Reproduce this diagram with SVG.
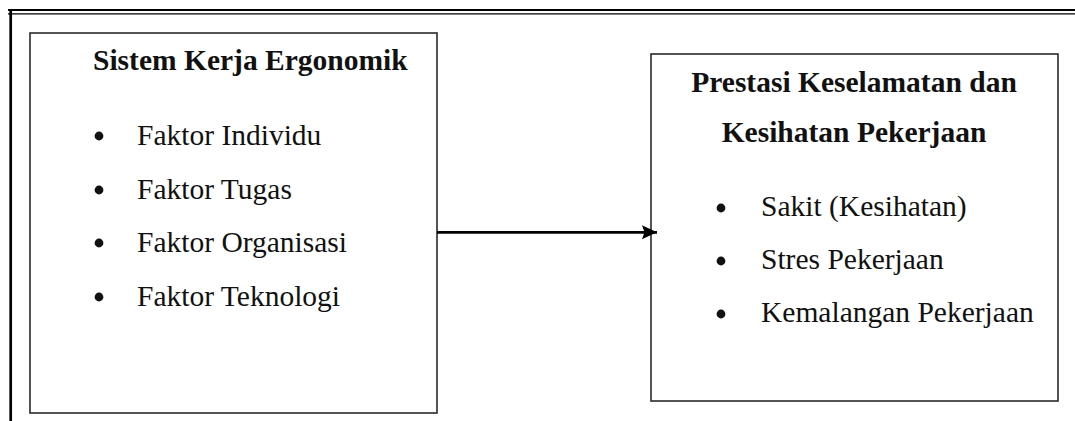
<svg xmlns="http://www.w3.org/2000/svg" width="1075" height="421" viewBox="0 0 1075 421">
<defs>
<style>
.box{fill:#fff;stroke:#2a2a2a;stroke-width:1.6}
.frame{stroke:#000;fill:none}
.title{font-family:"Liberation Serif","Times New Roman",serif;font-weight:bold;font-size:29.5px;fill:#111}
.item{font-family:"Liberation Serif","Times New Roman",serif;font-size:29.5px;fill:#111}
.bullet{fill:#111}
.conn{stroke:#000;stroke-width:2.7;fill:none}
</style>
<marker id="arrow" markerUnits="userSpaceOnUse" markerWidth="18" markerHeight="18" refX="15" refY="8" orient="auto">
<path d="M0,1 L15,8 L0,15 L2.5,8 Z" fill="#000"/>
</marker>
</defs>
<rect width="1075" height="421" fill="#fff"/>
<g id="frame">
<line class="frame" x1="8" y1="10" x2="1075" y2="10" stroke-width="2.2"/>
<line class="frame" x1="8" y1="13.8" x2="1075" y2="13.8" stroke-width="1.3"/>
<line class="frame" x1="10.7" y1="9" x2="10.7" y2="421" stroke-width="2.7"/>
</g>
<g id="node-sistem">
<rect class="box" x="30" y="33" width="407" height="380"/>
<text class="title" x="93" y="70">Sistem Kerja Ergonomik</text>
<circle class="bullet" cx="99" cy="136" r="4.4"/>
<text class="item" x="137" y="145">Faktor Individu</text>
<circle class="bullet" cx="99" cy="190" r="4.4"/>
<text class="item" x="137" y="199">Faktor Tugas</text>
<circle class="bullet" cx="99" cy="243" r="4.4"/>
<text class="item" x="137" y="252">Faktor Organisasi</text>
<circle class="bullet" cx="99" cy="297" r="4.4"/>
<text class="item" x="137" y="306">Faktor Teknologi</text>
</g>
<g id="node-prestasi">
<rect class="box" x="651" y="54" width="407" height="347"/>
<text class="title" x="854" y="92" text-anchor="middle">Prestasi Keselamatan dan</text>
<text class="title" x="854" y="142" text-anchor="middle">Kesihatan Pekerjaan</text>
<circle class="bullet" cx="721" cy="208" r="4.4"/>
<text class="item" x="761" y="216">Sakit (Kesihatan)</text>
<circle class="bullet" cx="721" cy="261" r="4.4"/>
<text class="item" x="761" y="269">Stres Pekerjaan</text>
<circle class="bullet" cx="721" cy="314" r="4.4"/>
<text class="item" x="761" y="322">Kemalangan Pekerjaan</text>
</g>
<g id="connectors">
<line class="conn" x1="437" y1="232.3" x2="657" y2="232.3" marker-end="url(#arrow)"/>
</g>
</svg>
